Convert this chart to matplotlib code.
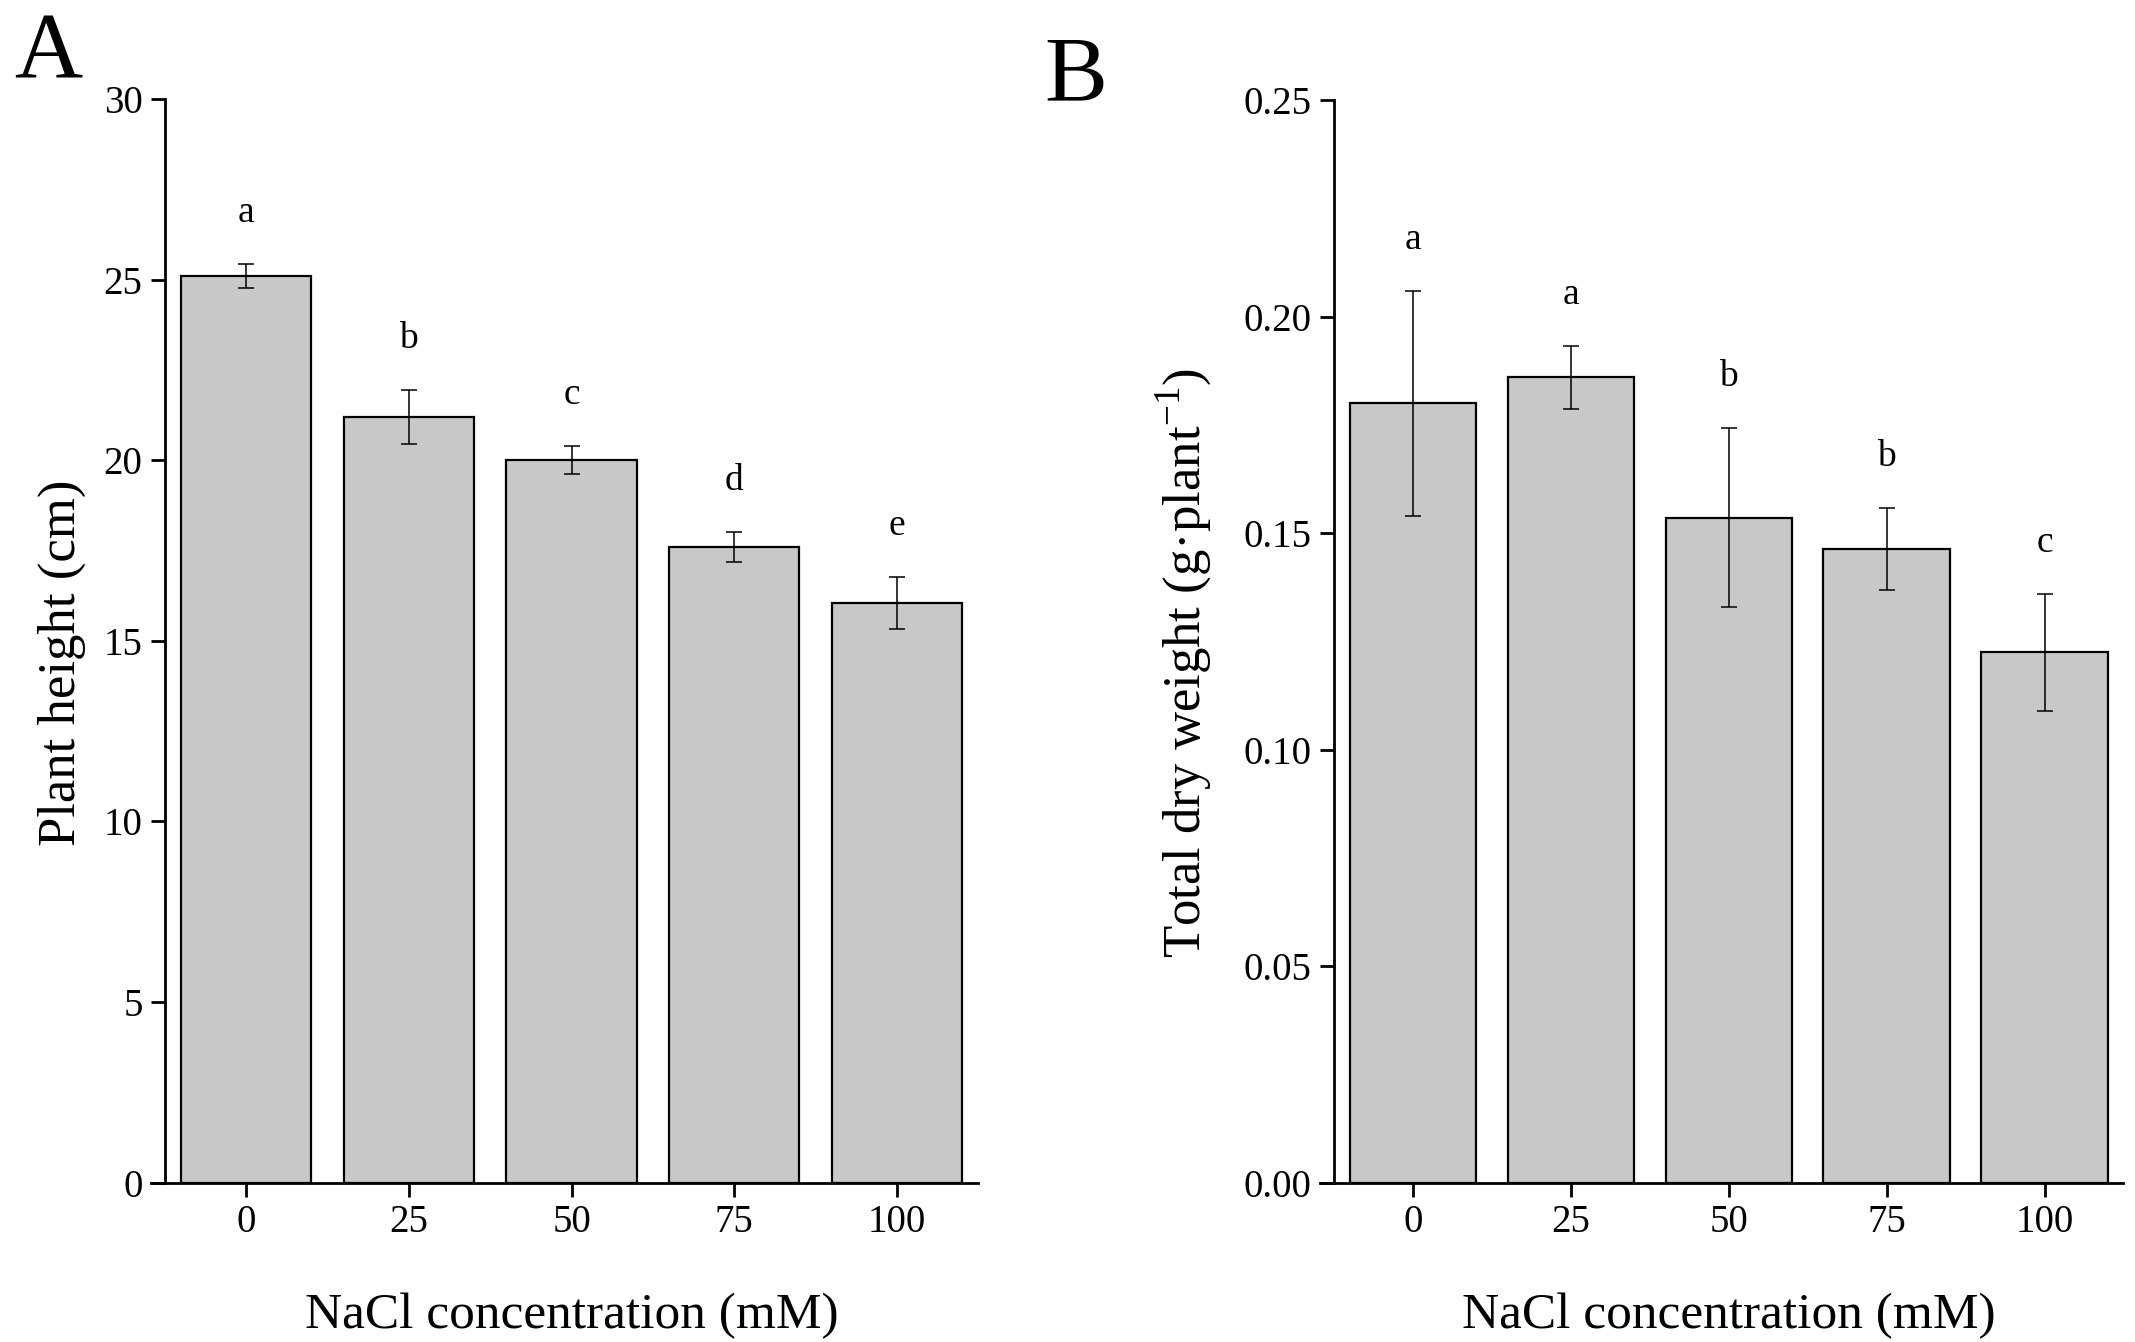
"""Plant height and total dry weight under NaCl stress (two bar panels)."""

import numpy as np
import matplotlib
matplotlib.use("Agg")
import matplotlib.pyplot as plt
from matplotlib.ticker import FormatStrFormatter, MultipleLocator

plt.rcParams["font.family"] = ["Liberation Serif", "DejaVu Serif"]
plt.rcParams["mathtext.fontset"] = "custom"
plt.rcParams["mathtext.rm"] = "Liberation Serif"

# NaCl concentration (mM)
nacl = [0, 25, 50, 75, 100]

# panel A: plant height (cm)
height_mean = [25.1, 21.2, 20.0, 17.6, 16.05]
height_err = [0.34, 0.74, 0.38, 0.42, 0.72]
height_letters = ["a", "b", "c", "d", "e"]

# panel B: total dry weight (g per plant)
weight_mean = [0.180, 0.186, 0.1536, 0.1463, 0.1225]
weight_err = [0.026, 0.0073, 0.0206, 0.0095, 0.0135]
weight_letters = ["a", "a", "b", "b", "c"]

BAR_COLOR = "#c8c8c8"


def draw_panel(ax, means, errs, letters, ylim, ystep, ylabel, yfmt, ylabel_x):
    ax.bar(nacl, means, width=20, color=BAR_COLOR, edgecolor="black",
           linewidth=1.6, zorder=2)
    ax.errorbar(nacl, means, yerr=errs, fmt="none", ecolor="black",
                elinewidth=1.1, capsize=6, capthick=1.1, zorder=3)
    for x, m, e, lab in zip(nacl, means, errs, letters):
        ax.annotate(lab, (x, m + e), xytext=(0, 37), textcoords="offset points",
                    ha="center", va="center", fontsize=27)

    ax.set_xlim(-12.5, 112.5)
    ax.set_ylim(*ylim)
    ax.set_xticks(nacl)
    ax.yaxis.set_major_locator(MultipleLocator(ystep))
    ax.yaxis.set_major_formatter(FormatStrFormatter(yfmt))

    for side in ("top", "right"):
        ax.spines[side].set_visible(False)
    for side in ("left", "bottom"):
        ax.spines[side].set_linewidth(2.0)
    # x axis line runs on under the y tick marks, as in the original
    ax.spines["bottom"].set_bounds(-14.7, 112.5)
    ax.tick_params(axis="both", direction="out", length=10, width=2.0,
                   labelsize=28)
    ax.tick_params(axis="y", pad=6)
    ax.tick_params(axis="x", pad=5)

    ax.set_xlabel("NaCl concentration (mM)", fontsize=37, va="center")
    ax.xaxis.set_label_coords(0.5, -0.123)
    ax.set_ylabel(ylabel, fontsize=38, va="center")
    ax.yaxis.set_label_coords(ylabel_x, 0.48)


fig = plt.figure(figsize=(21.35, 13.42), dpi=100)
ax_a = fig.add_axes([0.0772, 0.1187, 0.381, 0.8076])
ax_b = fig.add_axes([0.6248, 0.1187, 0.3698, 0.8066])

draw_panel(ax_a, height_mean, height_err, height_letters, (0, 30), 5,
           "Plant height (cm)", "%d", -0.127)
draw_panel(ax_b, weight_mean, weight_err, weight_letters, (0, 0.25), 0.05,
           r"Total dry weight (g·plant$^{-1}$)", "%.2f", -0.19)

fig.text(0.0225, 0.959, "A", fontsize=68, ha="center", va="center")
fig.text(0.504, 0.942, "B", fontsize=68, ha="center", va="center")

fig.savefig("out.png", dpi=100, facecolor="white")
